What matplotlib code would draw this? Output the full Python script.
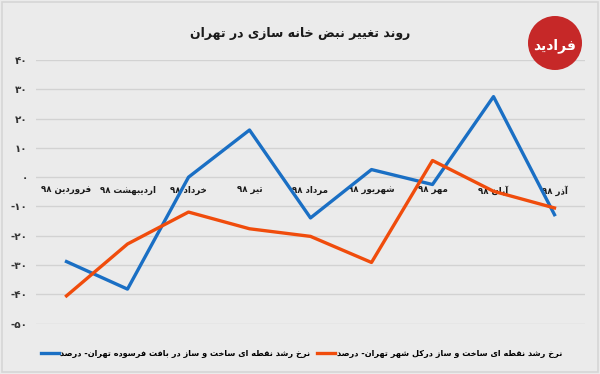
import matplotlib
matplotlib.use("Agg")
import matplotlib.pyplot as plt
from matplotlib.patches import Circle, Rectangle
from matplotlib.ticker import FixedLocator, FuncFormatter

# --- data ---
title_fa = "روند تغییر نبض خانه سازی در تهران"
months = ["فروردین ۹۸", "اردیبهشت ۹۸", "خرداد ۹۸", "تیر ۹۸", "مرداد ۹۸",
          "شهریور ۹۸", "مهر ۹۸", "آبان ۹۸", "آذر ۹۸"]
old_fabric = [-28.8, -38.2, 0.0, 16.1, -13.9, 2.6, -2.5, 27.5, -12.8]
whole_city = [-40.5, -22.8, -11.9, -17.6, -20.2, -29.1, 5.7, -4.8, -10.5]
label_old = "نرخ رشد نقطه ای ساخت و ساز در بافت فرسوده تهران- درصد"
label_city = "نرخ رشد نقطه ای ساخت و ساز درکل شهر تهران- درصد"
y_ticks = [40, 30, 20, 10, 0, -10, -20, -30, -40, -50]

blue = "#1a6fc4"
orange = "#f04c0c"
bg = "#ebebeb"
grid_c = "#d2d2d2"
text_c = "#1a1a1a"

# --- minimal arabic/persian shaping (matplotlib has no bidi) ---
# letter: (isolated, final, initial, medial); None => right-joining only
FORMS = {
    "ا": (0xFE8D, 0xFE8E, None, None), "آ": (0xFE81, 0xFE82, None, None),
    "د": (0xFEA9, 0xFEAA, None, None), "ذ": (0xFEAB, 0xFEAC, None, None),
    "ر": (0xFEAD, 0xFEAE, None, None), "ز": (0xFEAF, 0xFEB0, None, None),
    "ژ": (0xFB8A, 0xFB8B, None, None), "و": (0xFEED, 0xFEEE, None, None),
    "ب": (0xFE8F, 0xFE90, 0xFE91, 0xFE92), "پ": (0xFB56, 0xFB57, 0xFB58, 0xFB59),
    "ت": (0xFE95, 0xFE96, 0xFE97, 0xFE98), "ث": (0xFE99, 0xFE9A, 0xFE9B, 0xFE9C),
    "ج": (0xFE9D, 0xFE9E, 0xFE9F, 0xFEA0), "چ": (0xFB7A, 0xFB7B, 0xFB7C, 0xFB7D),
    "ح": (0xFEA1, 0xFEA2, 0xFEA3, 0xFEA4), "خ": (0xFEA5, 0xFEA6, 0xFEA7, 0xFEA8),
    "س": (0xFEB1, 0xFEB2, 0xFEB3, 0xFEB4), "ش": (0xFEB5, 0xFEB6, 0xFEB7, 0xFEB8),
    "ص": (0xFEB9, 0xFEBA, 0xFEBB, 0xFEBC), "ض": (0xFEBD, 0xFEBE, 0xFEBF, 0xFEC0),
    "ط": (0xFEC1, 0xFEC2, 0xFEC3, 0xFEC4), "ظ": (0xFEC5, 0xFEC6, 0xFEC7, 0xFEC8),
    "ع": (0xFEC9, 0xFECA, 0xFECB, 0xFECC), "غ": (0xFECD, 0xFECE, 0xFECF, 0xFED0),
    "ف": (0xFED1, 0xFED2, 0xFED3, 0xFED4), "ق": (0xFED5, 0xFED6, 0xFED7, 0xFED8),
    "ک": (0xFB8E, 0xFB8F, 0xFB90, 0xFB91), "گ": (0xFB92, 0xFB93, 0xFB94, 0xFB95),
    "ل": (0xFEDD, 0xFEDE, 0xFEDF, 0xFEE0), "م": (0xFEE1, 0xFEE2, 0xFEE3, 0xFEE4),
    "ن": (0xFEE5, 0xFEE6, 0xFEE7, 0xFEE8), "ه": (0xFEE9, 0xFEEA, 0xFEEB, 0xFEEC),
    "ی": (0xFBFC, 0xFBFD, 0xFBFE, 0xFBFF),
}


def fa(s):
    out = []
    for i, ch in enumerate(s):
        f = FORMS.get(ch)
        if f is None:
            out.append(ch)
            continue
        prev = FORMS.get(s[i - 1]) if i > 0 else None
        nxt = FORMS.get(s[i + 1]) if i + 1 < len(s) else None
        join_prev = prev is not None and prev[2] is not None
        join_next = f[2] is not None and nxt is not None
        if join_prev and join_next:
            code = f[3]
        elif join_prev:
            code = f[1]
        elif join_next:
            code = f[2]
        else:
            code = f[0]
        out.append(chr(code))
    # visual order: reverse, but keep digit runs left-to-right
    runs, cur, is_dig = [], "", None
    for ch in out:
        d = ch.isdigit()
        if cur and d != is_dig:
            runs.append((cur, is_dig))
            cur = ""
        cur += ch
        is_dig = d
    if cur:
        runs.append((cur, is_dig))
    return "".join(r if d else r[::-1] for r, d in reversed(runs))


FA_DIGITS = str.maketrans("0123456789", "۰۱۲۳۴۵۶۷۸۹")


def fa_num(v, pos=None):
    return str(int(v)).translate(FA_DIGITS)


plt.rcParams["font.family"] = ["DejaVu Sans"]

fig = plt.figure(figsize=(6.0, 3.74), dpi=100, facecolor=bg)
fig.patches.append(Rectangle((0.004, 0.006), 0.992, 0.988, transform=fig.transFigure,
                             fill=False, edgecolor="#d6d6d6", lw=1.2))

ax = fig.add_axes([0.06, 0.1345, 0.915, 0.7051])
ax.set_facecolor(bg)
x = list(range(len(months)))

ax.plot(x, old_fabric, color=blue, lw=2.4, label=fa(label_old), zorder=3)
ax.plot(x, whole_city, color=orange, lw=2.4, label=fa(label_city), zorder=3)

ax.set_xlim(-0.5, len(months) - 0.5)
ax.set_ylim(-50, 40)
ax.yaxis.set_major_locator(FixedLocator(y_ticks))
ax.yaxis.set_major_formatter(FuncFormatter(fa_num))
ax.grid(axis="y", color=grid_c, lw=1)
ax.set_axisbelow(True)

for side in ["left", "right", "top"]:
    ax.spines[side].set_visible(False)
ax.spines["bottom"].set_position(("data", 0))
ax.spines["bottom"].set_visible(False)

ax.set_xticks(x)
ax.set_xticklabels([fa(m) for m in months], fontsize=6.2, fontweight="bold", color=text_c)
ax.tick_params(axis="x", length=0, pad=6)
ax.tick_params(axis="y", length=0, pad=6, labelsize=7.5, labelcolor="#333333")
for t in ax.get_yticklabels():
    t.set_fontweight("bold")

fig.text(0.5, 1 - 34 / 374, fa(title_fa), ha="center", va="center", fontsize=9,
         fontweight="bold", color=text_c)

# logo badge top right
fig.patches.append(Circle((5.55, 3.74 - 0.43), 0.27, transform=fig.dpi_scale_trans,
                          facecolor="#c62828", edgecolor="none"))
fig.text(555 / 600, 1 - 46 / 374, fa("فرادید"), ha="center", va="center", fontsize=10,
         fontweight="bold", color="white")

fig.legend(loc="center", bbox_to_anchor=(0.502, 1 - 353 / 374), ncol=2, frameon=False,
           handlelength=2.2, handletextpad=0.2, columnspacing=0.8,
           prop={"family": "DejaVu Sans", "weight": "bold", "size": 5.9})

fig.savefig("out.png", dpi=100, facecolor=bg)
